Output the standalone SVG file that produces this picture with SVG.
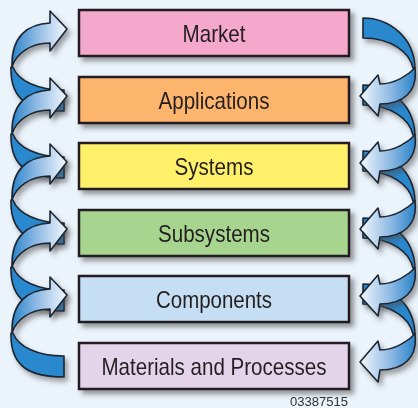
<svg xmlns="http://www.w3.org/2000/svg" xmlns:xlink="http://www.w3.org/1999/xlink" width="418" height="408" viewBox="0 0 418 408">
<style>
.box{stroke:#231F20;stroke-width:2.5}
.lbl{font-family:"Liberation Sans",Arial,sans-serif;font-size:24px;fill:#231F20;text-anchor:middle}
.num{font-family:"Liberation Sans",Arial,sans-serif;font-size:13px;fill:#333;text-anchor:end}
.back{fill:#2B88CE;stroke:#1C2530;stroke-width:1.6;stroke-linejoin:round}
.frontL{fill:url(#gL);stroke:#1C2530;stroke-width:1.6;stroke-linejoin:round}
.frontR{fill:url(#gR);stroke:#1C2530;stroke-width:1.6;stroke-linejoin:round}
</style>
<defs>
<filter id="sh" x="-20%" y="-20%" width="150%" height="160%">
<feDropShadow dx="4" dy="4" stdDeviation="2.5" flood-color="#4a4a4a" flood-opacity="0.55"/>
</filter>
<filter id="ash" x="-30%" y="-30%" width="160%" height="160%">
<feDropShadow dx="3" dy="4" stdDeviation="2.5" flood-color="#4a4a4a" flood-opacity="0.5"/>
</filter>
<linearGradient id="gL" gradientUnits="userSpaceOnUse" x1="12" y1="0" x2="67" y2="0">
<stop offset="0" stop-color="#2B84CA"/>
<stop offset="0.45" stop-color="#8FBAE4"/>
<stop offset="1" stop-color="#F3F8FD"/>
</linearGradient>
<linearGradient id="gR" gradientUnits="userSpaceOnUse" x1="415" y1="0" x2="360" y2="0">
<stop offset="0" stop-color="#2B84CA"/>
<stop offset="0.45" stop-color="#8FBAE4"/>
<stop offset="1" stop-color="#F3F8FD"/>
</linearGradient>
<path id="lfront" class="frontL" d="M67 -4 L50 -22 L50 -10 C29 -9 11 2 12 34 C16 21 30 10 50 10 L50 18 Z"/>
<path id="lback" class="back" d="M64 57 L64 78 C30 78 10 68 11 34 L13 34 C18 48 38 57 64 57 Z"/>
<path id="rback" class="back" d="M363 -15 C389 -15 414 4 415 35 L413 35 C410 20 392 5 363 5 Z"/>
<path id="rfront" class="frontR" d="M360 63 L378 42 L380 51 C395 51 408 42 415 35 C418 59 403 71 380 71 L378 83 Z"/>
</defs>
<rect width="418" height="408" fill="#EBF3FB"/>
<g id="connectors">
<g filter="url(#ash)">
<use xlink:href="#lback" href="#lback" transform="translate(0,33)"/>
<use xlink:href="#lback" href="#lback" transform="translate(0,100)"/>
<use xlink:href="#lback" href="#lback" transform="translate(0,166)"/>
<use xlink:href="#lback" href="#lback" transform="translate(0,233)"/>
<use xlink:href="#lback" href="#lback" transform="translate(0,299)"/>
<use xlink:href="#rback" href="#rback" transform="translate(0,33)"/>
<use xlink:href="#rback" href="#rback" transform="translate(0,100)"/>
<use xlink:href="#rback" href="#rback" transform="translate(0,166)"/>
<use xlink:href="#rback" href="#rback" transform="translate(0,233)"/>
<use xlink:href="#rback" href="#rback" transform="translate(0,299)"/>
</g>
<g filter="url(#ash)">
<use xlink:href="#lfront" href="#lfront" transform="translate(0,33)"/>
<use xlink:href="#lfront" href="#lfront" transform="translate(0,100)"/>
<use xlink:href="#lfront" href="#lfront" transform="translate(0,166)"/>
<use xlink:href="#lfront" href="#lfront" transform="translate(0,233)"/>
<use xlink:href="#lfront" href="#lfront" transform="translate(0,299)"/>
<use xlink:href="#rfront" href="#rfront" transform="translate(0,33)"/>
<use xlink:href="#rfront" href="#rfront" transform="translate(0,100)"/>
<use xlink:href="#rfront" href="#rfront" transform="translate(0,166)"/>
<use xlink:href="#rfront" href="#rfront" transform="translate(0,233)"/>
<use xlink:href="#rfront" href="#rfront" transform="translate(0,299)"/>
</g>
</g>
<g id="market">
<rect class="box" x="79" y="10" width="270" height="46" fill="#F4A8CB" filter="url(#sh)"/>
<text class="lbl" x="214" y="42" textLength="63" lengthAdjust="spacingAndGlyphs">Market</text>
</g>
<g id="applications">
<rect class="box" x="79" y="77" width="270" height="46" fill="#FDB56D" filter="url(#sh)"/>
<text class="lbl" x="214" y="109" textLength="111" lengthAdjust="spacingAndGlyphs">Applications</text>
</g>
<g id="systems">
<rect class="box" x="79" y="143" width="270" height="46" fill="#FFF06B" filter="url(#sh)"/>
<text class="lbl" x="214" y="175" textLength="79" lengthAdjust="spacingAndGlyphs">Systems</text>
</g>
<g id="subsystems">
<rect class="box" x="79" y="210" width="270" height="46" fill="#A7D48E" filter="url(#sh)"/>
<text class="lbl" x="214" y="242" textLength="112" lengthAdjust="spacingAndGlyphs">Subsystems</text>
</g>
<g id="components">
<rect class="box" x="79" y="276" width="270" height="46" fill="#C6DEF3" filter="url(#sh)"/>
<text class="lbl" x="214" y="308" textLength="116" lengthAdjust="spacingAndGlyphs">Components</text>
</g>
<g id="materials">
<rect class="box" x="79" y="343" width="270" height="46" fill="#E4D4EA" filter="url(#sh)"/>
<text class="lbl" x="214" y="375" textLength="225" lengthAdjust="spacingAndGlyphs">Materials and Processes</text>
</g>
<text class="num" x="348" y="406" textLength="58" lengthAdjust="spacingAndGlyphs">03387515</text>
</svg>
